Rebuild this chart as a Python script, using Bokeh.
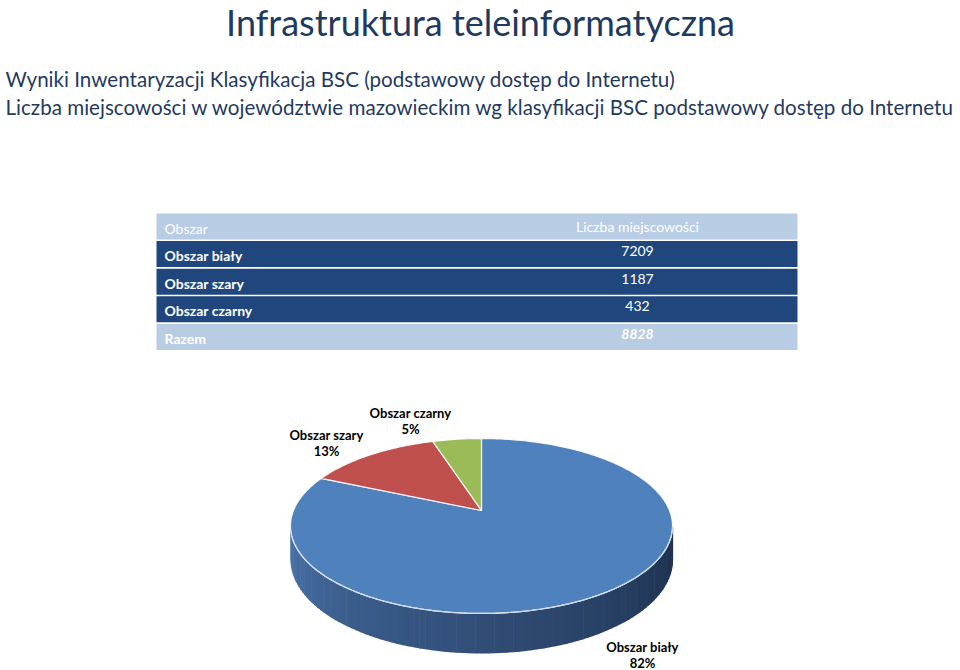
from bokeh.plotting import figure
from bokeh.models import Range1d
from bokeh.embed import file_html
from bokeh.resources import INLINE
from bokeh.core.properties import value
import numpy as np

# ---------------- data ----------------
title = "Infrastruktura teleinformatyczna"
subtitle1 = "Wyniki Inwentaryzacji Klasyfikacja BSC (podstawowy dostęp do Internetu)"
subtitle2 = "Liczba miejscowości w województwie mazowieckim wg klasyfikacji BSC podstawowy dostęp do Internetu"
header = ["Obszar", "Liczba miejscowości"]
categories = ["Obszar biały", "Obszar szary", "Obszar czarny"]
counts = [7209, 1187, 432]
total_label = "Razem"
slice_colors = ["#4f81bd", "#c0504d", "#9bbb59"]

# ---------------- canvas ----------------
W, H = 960, 670
FONT = "Lato"


def Y(v):
    return H - v


p = figure(width=W, height=H, x_range=Range1d(0, W), y_range=Range1d(0, H),
           output_backend="svg", toolbar_location=None, min_border=0)
p.xaxis.visible = False
p.yaxis.visible = False
p.xgrid.visible = False
p.ygrid.visible = False
p.outline_line_color = None
p.background_fill_color = "white"
p.border_fill_color = "white"

# ---------------- titles ----------------
p.text(x=[480], y=[Y(21)], text=[title], text_font=value(FONT), text_font_size="36px",
       text_color="#1f3a5f", text_align="center", text_baseline="middle")
p.text(x=[5], y=[Y(78)], text=[subtitle1], text_font=value(FONT), text_font_size="20.6px",
       text_color="#1f3a5f", text_align="left", text_baseline="middle")
p.text(x=[5], y=[Y(106)], text=[subtitle2], text_font=value(FONT), text_font_size="20.6px",
       text_color="#1f3a5f", text_align="left", text_baseline="middle")

# ---------------- table ----------------
total = sum(counts)
row_labels = [header[0]] + categories + [total_label]
row_values = [header[1]] + [str(c) for c in counts] + [str(total)]
n_rows = len(row_labels)
t_left, t_right, t_top, row_h, gap = 156, 797, 213, 26, 1.6
light, dark = "#b8cce4", "#20477d"
tops = [t_top + i * (row_h + gap) for i in range(n_rows)]
fills = [light] + [dark] * len(categories) + [light]
p.quad(left=[t_left] * n_rows, right=[t_right] * n_rows,
       top=[Y(t) for t in tops], bottom=[Y(t + row_h) for t in tops],
       fill_color=fills, line_color=None)
for i in range(n_rows):
    cy = tops[i] + row_h / 2
    p.text(x=[164], y=[Y(cy + 1.5)], text=[row_labels[i]], text_font=value(FONT),
           text_font_size="14px", text_color="white", text_font_style="bold" if i > 0 else "normal",
           text_align="left", text_baseline="middle")
    style = "bold italic" if i == n_rows - 1 else "normal"
    p.text(x=[637], y=[Y(cy - (0 if i == 0 else 3))], text=[row_values[i]], text_font=value(FONT),
           text_font_size="14px", text_color="white", text_font_style=style,
           text_align="center", text_baseline="middle")

# ---------------- 3D pie (with perspective) ----------------
acx, acy = 481.0, 510.0      # apex (pie centre) in page pixels, y down
R, Rv, k = 188.0, 84.7, 0.177  # horizontal radius, vertical radius, perspective
depth = 33.0


def ell(t):
    s = 1.0 / (1.0 + k * np.sin(t))
    return acx + R * np.cos(t) * s, Y(acy - Rv * np.sin(t) * s), s


# side (front part between silhouette points) with gradient strips
t0 = np.pi + np.arcsin(k)
t1 = 2 * np.pi - np.arcsin(k)
n_strip = 100
ts = np.linspace(t0, t1, n_strip + 1)
c0 = np.array([0x4c, 0x77, 0xb0])
c1 = np.array([0x1d, 0x30, 0x4d])
xs_s, ys_s, cols_s = [], [], []
for i in range(n_strip):
    ta, tb = ts[i], ts[i + 1]
    xa, ya, sa = ell(ta)
    xb, yb, sb = ell(tb)
    xs_s.append([xa, xb + 0.6, xb + 0.6, xa])
    ys_s.append([ya, yb, yb - depth * sb, ya - depth * sa])
    f = ((i + 0.5) / n_strip) ** 0.8
    c = (c0 * (1 - f) + c1 * f).astype(int)
    cols_s.append("#%02x%02x%02x" % tuple(c))
p.patches(xs=xs_s, ys=ys_s, fill_color=cols_s, line_color=None)

# top face slices (clockwise from 12 o'clock)
fracs = np.array(counts) / total
start = np.pi / 2
xs_t, ys_t = [], []
for fr in fracs:
    end = start - fr * 2 * np.pi
    tt = np.linspace(start, end, max(10, int(fr * 400)))
    ex, ey, _ = ell(tt)
    xs_t.append([acx] + list(ex) + [acx])
    ys_t.append([Y(acy)] + list(ey) + [Y(acy)])
    start = end
p.patches(xs=xs_t, ys=ys_t, fill_color=slice_colors, line_color="white", line_width=1.2,
          line_alpha=0.9)

# light rim on front of top face
tr = np.linspace(t0 + 0.05, t1, 200)
rx_, ry_, _ = ell(tr)
p.line(x=rx_, y=ry_, line_color="#cfdcee", line_width=1.2)

# pie labels
pct = [f"{round(f * 100):d}%" for f in fracs]
lab_pos = [(642, 646), (326, 434), (410, 412)]
for name, pc, (lx, ly) in zip(categories, pct, lab_pos):
    p.text(x=[lx], y=[Y(ly)], text=[name], text_font=value(FONT), text_font_size="13px",
           text_color="black", text_font_style="bold", text_align="center", text_baseline="middle")
    p.text(x=[lx], y=[Y(ly + 16.5)], text=[pc], text_font=value(FONT), text_font_size="13px",
           text_color="black", text_font_style="bold", text_align="center", text_baseline="middle")

open("out.html", "w").write(file_html(p, INLINE))
